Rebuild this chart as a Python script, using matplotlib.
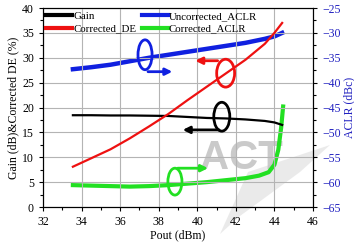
import matplotlib
matplotlib.use("Agg")
import matplotlib.pyplot as plt
from matplotlib.patches import Ellipse, Polygon
from matplotlib.ticker import MultipleLocator

# Pout (dBm)
pout = [33.55, 34.5, 35.5, 36.5, 37.5, 38.5, 39.5, 40.5, 41.5, 42.5, 43.5, 44.0, 44.4]
gain = [18.45, 18.45, 18.4, 18.4, 18.35, 18.3, 18.1, 17.9, 17.8, 17.6, 17.3, 17.0, 16.5]
de = [8.1, 9.8, 11.6, 13.8, 16.2, 18.7, 21.5, 24.2, 26.9, 29.6, 32.8, 35.0, 37.0]
aclr_unc = [-37.3, -36.9, -36.4, -35.7, -35.0, -34.4, -33.8, -33.2, -32.6, -32.0, -31.2, -30.7, -30.0]
pout_c = [33.55, 34.5, 35.5, 36.5, 37.5, 38.5, 39.5, 40.5, 41.5, 42.5, 43.2, 43.7, 44.0, 44.2, 44.35, 44.45]
aclr_cor = [-60.6, -60.7, -60.8, -60.9, -60.8, -60.6, -60.3, -60.0, -59.6, -59.2, -58.7, -58.0, -56.5, -53.5, -49.0, -44.8]

serif = "Liberation Serif"

fig = plt.figure(figsize=(3.54, 2.48), dpi=100)
ax = fig.add_axes([0.1215, 0.1653, 0.7627, 0.8024])
ax2 = ax.twinx()

# watermark (drawn on the figure, below both axes)
swoosh = [(220, 234), (248, 172), (330, 145), (300, 172), (240, 216)]
fig.patches.append(Polygon([(px / 354, 1 - py / 248) for px, py in swoosh], closed=True,
                           transform=fig.transFigure, facecolor="#e2e2e2", edgecolor="none",
                           alpha=0.7, zorder=0.2))
fig.text(241 / 354, 1 - 158 / 248, "ACT", fontsize=29, fontweight="bold", color="#bdbdbd", alpha=0.8,
         ha="center", va="center", family="Liberation Sans", zorder=0.3)

l1, = ax.plot(pout, gain, color="black", lw=1.6, label="Gain")
l2, = ax.plot(pout, de, color="#ee1111", lw=1.6, label="Corrected_DE")
l3, = ax2.plot(pout, aclr_unc, color="#1020e0", lw=3.2, label="Uncorrected_ACLR")
l4, = ax2.plot(pout_c, aclr_cor, color="#22e022", lw=3.0, label="Corrected_ACLR")

ax.set_xlim(32, 46)
ax.set_ylim(0, 40)
ax2.set_ylim(-65, -25)
ax.xaxis.set_major_locator(MultipleLocator(2))
ax.xaxis.set_minor_locator(MultipleLocator(1))
ax.yaxis.set_major_locator(MultipleLocator(5))
ax.yaxis.set_minor_locator(MultipleLocator(2.5))
ax2.yaxis.set_major_locator(MultipleLocator(5))
ax2.yaxis.set_minor_locator(MultipleLocator(2.5))
ax.grid(True, which="major", color="#b4b4b4", lw=0.8)
ax.set_axisbelow(True)

ax.tick_params(which="both", direction="out", labelsize=8.5, width=0.8)
ax.tick_params(which="major", length=3)
ax.tick_params(which="minor", length=2)
ax2.tick_params(which="both", direction="out", labelsize=8.5, width=0.8, labelcolor="#2020c0")
ax2.tick_params(which="major", length=3)
ax2.tick_params(which="minor", length=2)
for lab in ax.get_xticklabels() + ax.get_yticklabels() + ax2.get_yticklabels():
    lab.set_family(serif)

ax.set_xlabel("Pout (dBm)", family=serif, fontsize=8.5, labelpad=1)
ax.set_ylabel("Gain (dB)&Corrected DE (%)", family=serif, fontsize=8.5, labelpad=2)
ax2.set_ylabel("ACLR (dBc)", family=serif, fontsize=8.5, color="#2020c0", labelpad=2)

# hand-drawn ellipses and arrows
def mark(cx, cy, w, h, x0, y1, x1, color):
    ax.add_patch(Ellipse((cx, cy), w, h, fill=False, edgecolor=color, lw=2, zorder=5))
    ax.annotate("", xy=(x1, y1), xytext=(x0, y1),
                arrowprops=dict(arrowstyle="-|>", color=color, lw=2, mutation_scale=10), zorder=5)

mark(37.29, 30.6, 0.73, 6.0, 37.3, 27.2, 38.85, "#1020e0")
mark(41.47, 26.9, 0.93, 5.6, 41.2, 29.4, 39.75, "#ee1111")
mark(41.27, 18.15, 0.83, 5.8, 41.27, 15.5, 39.1, "black")
mark(38.84, 5.1, 0.73, 5.4, 38.84, 7.8, 40.7, "#22e022")

leg = ax.legend([l1, l2, l3, l4], ["Gain", "Corrected_DE", "Uncorrected_ACLR", "Corrected_ACLR"],
                ncol=2, loc="upper left", frameon=False, prop={"family": serif, "size": 7.8},
                handlelength=2.4, handletextpad=0.1, columnspacing=0.5, labelspacing=0.3,
                borderaxespad=0.1, borderpad=0.2)
for h in leg.get_lines():
    h.set_linewidth(3)
leg.set_zorder(10)
ax2.set_zorder(1)
ax.set_zorder(2)
ax.patch.set_visible(False)
ax2.patch.set_visible(False)

fig.savefig("out.png", dpi=100)
